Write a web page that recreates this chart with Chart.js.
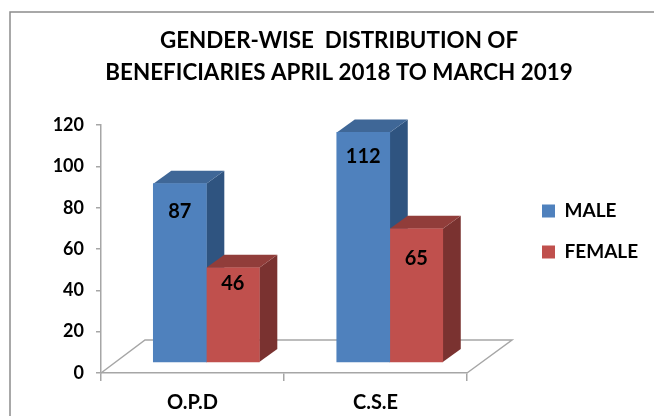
<!DOCTYPE html>
<html>
<head>
<meta charset="utf-8">
<title>Gender-wise distribution</title>
<script src="https://cdn.jsdelivr.net/npm/chart.js@4"></script>
<style>
  html, body { margin: 0; padding: 0; background: #fff; }
  canvas { display: block; }
</style>
</head>
<body>
<canvas id="chart" width="654" height="416"></canvas>
<script>
const categories = ['O.P.D', 'C.S.E'];
const maleValues = [87, 112];
const femaleValues = [46, 65];
const titleLines = ['GENDER-WISE  DISTRIBUTION OF', 'BENEFICIARIES APRIL 2018 TO MARCH 2019'];

const FONT = 'Lato, "Open Sans", sans-serif';
const AXIS_COLOR = '#a6a6a6';
const DEPTH_X = 18;
const DEPTH_Y = 13;
// how far each value label sits below the top of its bar [male, female]
const labelDrop = [[28, 16], [24, 30]];
const faces = [
  { front: '#4f81bd', top: '#3f6797', side: '#2f5480' },
  { front: '#c0504d', top: '#913d3a', side: '#7a3230' },
];

// Fake 3D: frame, floor, then the top and side of every bar behind the flat fronts
const depthPlugin = {
  id: 'depth',
  beforeDraw(chart) {
    const { ctx } = chart;
    ctx.save();
    ctx.strokeStyle = '#8c8c8c';
    ctx.lineWidth = 1.5;
    ctx.strokeRect(10, 12, 700, 500);
    ctx.restore();
  },
  beforeDatasetsDraw(chart) {
    const { ctx, chartArea } = chart;
    const { left, right, bottom } = chartArea;
    const floorX = 44;
    const floorY = 33;

    ctx.save();
    ctx.strokeStyle = AXIS_COLOR;
    ctx.lineWidth = 1.5;
    ctx.beginPath();
    ctx.moveTo(left, bottom);
    ctx.lineTo(left + floorX, bottom - floorY);
    ctx.lineTo(right + floorX + 1, bottom - floorY);
    ctx.lineTo(right, bottom);
    ctx.stroke();

    chart.data.datasets.forEach((dataset, d) => {
      chart.getDatasetMeta(d).data.forEach((bar) => {
        const x0 = bar.x - bar.width / 2;
        const x1 = bar.x + bar.width / 2;
        ctx.fillStyle = faces[d].side;
        ctx.beginPath();
        ctx.moveTo(x1, bar.y);
        ctx.lineTo(x1 + DEPTH_X, bar.y - DEPTH_Y);
        ctx.lineTo(x1 + DEPTH_X, bar.base - DEPTH_Y);
        ctx.lineTo(x1, bar.base);
        ctx.closePath();
        ctx.fill();
        ctx.fillStyle = faces[d].top;
        ctx.beginPath();
        ctx.moveTo(x0, bar.y);
        ctx.lineTo(x0 + DEPTH_X, bar.y - DEPTH_Y);
        ctx.lineTo(x1 + DEPTH_X, bar.y - DEPTH_Y);
        ctx.lineTo(x1, bar.y);
        ctx.closePath();
        ctx.fill();
      });
    });
    ctx.restore();
  },
  afterDatasetsDraw(chart) {
    const { ctx } = chart;
    ctx.save();
    ctx.font = 'bold 20px ' + FONT;
    ctx.fillStyle = '#000';
    ctx.textAlign = 'center';
    ctx.textBaseline = 'middle';
    chart.data.datasets.forEach((dataset, d) => {
      chart.getDatasetMeta(d).data.forEach((bar, i) => {
        ctx.fillText(dataset.data[i].y, bar.x, bar.y + labelDrop[i][d]);
      });
    });
    ctx.restore();
  },
  // The legend sits right of the floor, and the y labels need room past the padding
  afterLayout(chart) {
    chart.legend.left = 520;
    chart.legend.right = 654;
    chart.legend.top = chart.legend.top + 11;
    chart.legend.bottom = chart.legend.bottom + 11;
    chart.scales.y.left = 30;
  },
};

new Chart(document.getElementById('chart'), {
  type: 'bar',
  plugins: [depthPlugin],
  data: {
    labels: categories,
    datasets: [
      {
        label: 'MALE',
        data: maleValues.map((v, i) => ({ x: i, y: v })),
        backgroundColor: faces[0].front,
        xAxisID: 'xBars',
        yAxisID: 'yBars',
      },
      {
        label: 'FEMALE',
        data: femaleValues.map((v, i) => ({ x: i, y: v })),
        backgroundColor: faces[1].front,
        xAxisID: 'xBars',
        yAxisID: 'yBars',
      },
    ],
  },
  options: {
    responsive: false,
    animation: false,
    barThickness: 53,
    layout: { padding: { top: 25, left: 83, right: 59, bottom: 0 } },
    plugins: {
      title: {
        display: true,
        text: titleLines,
        color: '#000',
        font: { family: FONT, size: 22.4, weight: 'bold', lineHeight: 1.43 },
        padding: { top: 0, bottom: 36 },
      },
      legend: {
        position: 'right',
        labels: {
          color: '#000',
          font: { family: FONT, size: 19, weight: 'bold' },
          boxWidth: 13,
          boxHeight: 13,
          padding: 22,
        },
      },
      tooltip: { enabled: false },
    },
    scales: {
      x: {
        type: 'category',
        offset: true,
        afterFit: (scale) => { scale.height = 43; },
        border: { color: AXIS_COLOR, width: 1.5 },
        grid: { offset: true, drawOnChartArea: false, tickLength: 8, color: AXIS_COLOR, lineWidth: 1.5 },
        ticks: { color: '#000', padding: 10, maxRotation: 0, font: { family: FONT, size: 20, weight: 'bold' } },
      },
      y: {
        min: 0,
        max: 120,
        afterFit: (scale) => { scale.width = 18; },
        border: { color: AXIS_COLOR, width: 1.5 },
        grid: { drawOnChartArea: false, tickLength: 5, color: AXIS_COLOR, lineWidth: 1.5 },
        ticks: { stepSize: 20, color: '#000', padding: 12, font: { family: FONT, size: 18, weight: 'bold' } },
      },
      // The bars stand on the raised floor, so they get their own hidden axes
      xBars: { type: 'linear', display: false, offset: false, min: -0.574, max: 1.421 },
      yBars: { type: 'linear', display: false, position: 'left', min: -5.37, max: 115.6 },
    },
  },
});
</script>
</body>
</html>
